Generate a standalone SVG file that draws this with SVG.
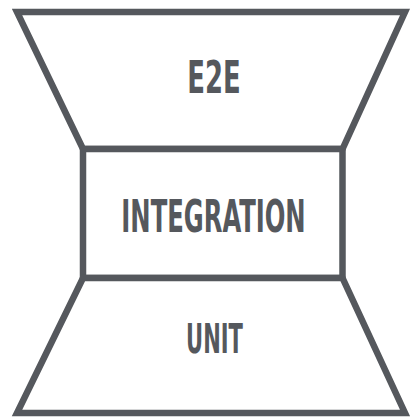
<svg xmlns="http://www.w3.org/2000/svg" width="411" height="417" viewBox="0 0 411 417">
  <style>
    .tier { fill: #ffffff; stroke: #55585d; stroke-width: 6.5; stroke-linejoin: miter; }
    .label { fill: #55585d; font-family: "DejaVu Sans Condensed", "Liberation Sans", sans-serif; font-weight: 700; text-anchor: middle; }
  </style>
  <rect width="411" height="417" fill="#ffffff"/>
  <g id="e2e">
    <polygon class="tier" points="17,12 405,12 342.5,149 83,149"/>
    <!-- condensed caption: horizontal squeeze keeps the tall caps -->
    <text class="label" transform="translate(214 93) scale(0.64 1)" x="0" y="0" font-size="45">E2E</text>
  </g>
  <g id="integration">
    <rect class="tier" x="83" y="149" width="259.5" height="129"/>
    <text class="label" transform="translate(213.5 232) scale(0.6 1)" x="0" y="0" font-size="45">INTEGRATION</text>
  </g>
  <g id="unit">
    <polygon class="tier" points="83,278 342.5,278 405,413 17,413"/>
    <text class="label" transform="translate(214.5 353) scale(0.57 1)" x="0" y="0" font-size="41">UNIT</text>
  </g>
  <g id="connectors"/>
</svg>
